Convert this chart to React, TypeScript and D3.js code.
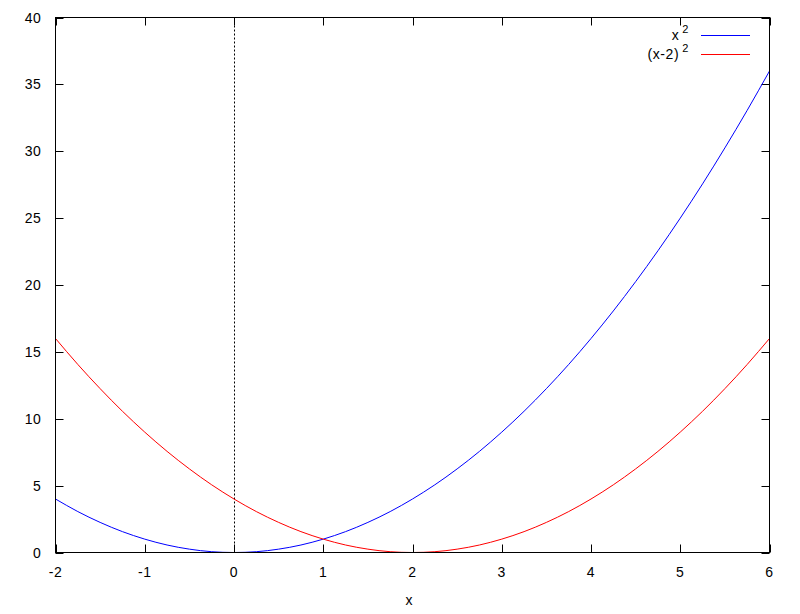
import * as d3 from 'd3';

// sample positions and readings taken off the two curves
const xs = [
  -2, -1.75, -1.5, -1.25, -1, -0.75, -0.5, -0.25, 0, 0.25, 0.5, 0.75, 1, 1.25, 1.5, 1.75, 2,
  2.25, 2.5, 2.75, 3, 3.25, 3.5, 3.75, 4, 4.25, 4.5, 4.75, 5, 5.25, 5.5, 5.75, 6,
];
const xSquared = [
  4, 3.06, 2.25, 1.56, 1, 0.56, 0.25, 0.06, 0, 0.06, 0.25, 0.56, 1, 1.56, 2.25, 3.06, 4,
  5.06, 6.25, 7.56, 9, 10.56, 12.25, 14.06, 16, 18.06, 20.25, 22.56, 25, 27.56, 30.25, 33.06, 36,
];
const xMinus2Squared = [
  16, 14.06, 12.25, 10.56, 9, 7.56, 6.25, 5.06, 4, 3.06, 2.25, 1.56, 1, 0.56, 0.25, 0.06, 0,
  0.06, 0.25, 0.56, 1, 1.56, 2.25, 3.06, 4, 5.06, 6.25, 7.56, 9, 10.56, 12.25, 14.06, 16,
];
const xTicks = [-2, -1, 0, 1, 2, 3, 4, 5, 6];
const yTicks = [0, 5, 10, 15, 20, 25, 30, 35, 40];
const seriesNames = ['x', '(x-2)'];
const seriesColors = ['#0000ff', '#ff0000'];

const W = 800;
const H = 614;
const PLOT = { left: 55.5, right: 769.5, top: 17.5, bottom: 552.5 };
const FONT = '"Liberation Sans", Arial, sans-serif';
const FS = 14;

export default function App() {
  const x = d3.scaleLinear().domain([-2, 6]).range([PLOT.left, PLOT.right]);
  const y = d3.scaleLinear().domain([0, 40]).range([PLOT.bottom, PLOT.top]);
  const line = d3
    .line<number>()
    .x((_, i) => x(xs[i]))
    .y((d) => y(d))
    .curve(d3.curveMonotoneX);
  const series = [xSquared, xMinus2Squared];
  const tick = 8;

  return (
    <svg
      width={W}
      height={H}
      style={{ position: 'absolute', left: 0, top: 0, background: '#fff' }}
      fontFamily={FONT}
    >
      <rect width={W} height={H} fill="#fff" />

      {/* zero axis */}
      <line
        x1={Math.round(x(0)) + 0.5}
        x2={Math.round(x(0)) + 0.5}
        y1={PLOT.top}
        y2={PLOT.bottom}
        stroke="#000"
        strokeDasharray="2,2"
      />

      {/* ticks, mirrored on all four sides */}
      {xTicks.map((t) => {
        const px = Math.round(x(t)) + 0.5;
        return (
          <g key={'x' + t}>
            <line x1={px} x2={px} y1={PLOT.bottom} y2={PLOT.bottom - tick} stroke="#000" />
            <line x1={px} x2={px} y1={PLOT.top} y2={PLOT.top + tick} stroke="#000" />
            <text x={x(t)} y={577} textAnchor="middle" fontSize={FS} letterSpacing={0.6} fill="#000">
              {t}
            </text>
          </g>
        );
      })}
      {yTicks.map((t) => {
        const py = Math.round(y(t)) + 0.5;
        return (
          <g key={'y' + t}>
            <line x1={PLOT.left} x2={PLOT.left + tick} y1={py} y2={py} stroke="#000" />
            <line x1={PLOT.right} x2={PLOT.right - tick} y1={py} y2={py} stroke="#000" />
            <text x={41.5} y={y(t) + 5} textAnchor="end" fontSize={FS} letterSpacing={0.6} fill="#000">
              {t}
            </text>
          </g>
        );
      })}

      {/* curves */}
      {series.map((s, i) => (
        <path key={i} d={line(s) ?? ''} fill="none" stroke={seriesColors[i]} strokeWidth={1} />
      ))}

      {/* frame */}
      <rect
        x={PLOT.left}
        y={PLOT.top}
        width={PLOT.right - PLOT.left}
        height={PLOT.bottom - PLOT.top}
        fill="none"
        stroke="#000"
      />

      {/* legend */}
      {seriesNames.map((name, i) => {
        const ly = 35 + i * 19;
        return (
          <g key={name}>
            <text x={689} y={ly + 5} textAnchor="end" fontSize={FS} letterSpacing={0.6} fill="#000">
              <tspan>{name}</tspan>
              <tspan dx={3} dy={-7} fontSize={11}>2</tspan>
            </text>
            <line x1={701} x2={750} y1={ly + 0.5} y2={ly + 0.5} stroke={seriesColors[i]} />
          </g>
        );
      })}

      {/* axis label */}
      <text x={409} y={605} textAnchor="middle" fontSize={FS} fill="#000">
        x
      </text>
    </svg>
  );
}
